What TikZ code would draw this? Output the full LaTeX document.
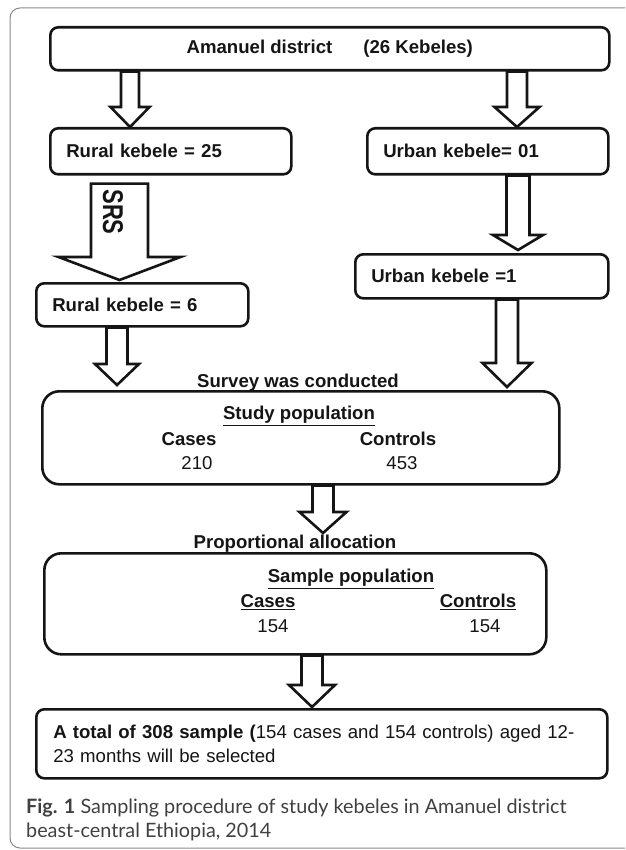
\documentclass[tikz,border=0pt]{standalone}
\usepackage{fontspec}
\setmainfont{Liberation Sans}
\newfontfamily\capfont{Lato}
\usetikzlibrary{calc}
\definecolor{framegray}{HTML}{8A8A8A}
\definecolor{capgray}{HTML}{404040}
\definecolor{ink}{HTML}{151515}
\newcommand{\dfs}{\fontsize{18.6pt}{24pt}\selectfont}
\tikzset{
  box/.style={draw=ink, line width=2.6pt, rounded corners=8pt, fill=white, inner sep=0pt,
    anchor=north west, font=\dfs\bfseries, text=ink},
  bigbox/.style={box, rounded corners=17pt},
  lbl/.style={font=\dfs\bfseries, text=ink, anchor=base, inner sep=0pt},
  num/.style={font=\dfs, text=ink, anchor=base, inner sep=0pt},
  bar/.style={draw=ink, line width=2.6pt, fill=white, line join=miter},
  captext/.style={font=\capfont\fontsize{19.8pt}{25pt}\selectfont, text=capgray, anchor=base west, inner sep=0pt},
}
% #1 src, #2 dst, #3 x, #4 shaft half, #5 head half, #6 head length, #7 start gap, #8 end gap
\newcommand{\blockarrow}[8]{%
  \draw[bar] let \p1=(#1.south), \p2=(#2.north) in
    ({#3pt-#4pt},{\y1-#7pt}) -- ({#3pt-#4pt},{\y2+#8pt+#6pt}) -- ({#3pt-#5pt},{\y2+#8pt+#6pt})
    -- ({#3pt},{\y2+#8pt}) -- ({#3pt+#5pt},{\y2+#8pt+#6pt}) -- ({#3pt+#4pt},{\y2+#8pt+#6pt})
    -- ({#3pt+#4pt},{\y1-#7pt}) -- cycle;}
\begin{document}
\begin{tikzpicture}
\useasboundingbox (0pt,0pt) rectangle (625pt,-850pt);
\clip (0pt,0pt) rectangle (625pt,-850pt);
\draw[framegray, line width=1pt, rounded corners=10pt] (10pt,-8pt) rectangle (660pt,-848pt);

% boxes
\node[box, minimum width=559pt, minimum height=43pt] (top) at (49pt,-26pt)
  {Amanuel district\hspace{31pt}(26 Kebeles)};
\node[box, minimum width=241pt, minimum height=46pt, inner xsep=16pt, text width=209pt, align=left]
  (r25) at (49pt,-127pt) {Rural kebele = 25};
\node[box, minimum width=241pt, minimum height=46pt, inner xsep=16pt, text width=209pt, align=left]
  (u01) at (366pt,-127pt) {Urban kebele= 01};
\node[box, minimum width=212pt, minimum height=43pt, inner xsep=16pt, text width=180pt, align=left]
  (r6) at (35pt,-282pt) {Rural kebele = 6};
\node[box, minimum width=253pt, minimum height=44pt, inner xsep=16pt, text width=221pt, align=left]
  (u1) at (354pt,-253pt) {Urban kebele =1};
\node[bigbox, minimum width=517pt, minimum height=93pt] (study) at (41pt,-390pt) {};
\node[bigbox, minimum width=502pt, minimum height=101pt] (sample) at (43pt,-552pt) {};
\node[box, minimum width=571pt, minimum height=69pt, inner xsep=17pt, text width=537pt, align=left]
  (final) at (35pt,-708pt)
  {\makebox[537pt][s]{A total of 308 sample (\mdseries 154 cases and 154 controls) aged 12-}\\
   \mdseries 23 months will be selected};

% block arrows
\blockarrow{top}{r25}{130}{9}{19.5}{20}{0}{0}
\blockarrow{top}{u01}{517}{10}{22.5}{20}{0}{0}
\blockarrow{r25}{r6}{119.5}{28.5}{61}{23}{8}{2}
\blockarrow{u01}{u1}{518}{11.5}{25}{15}{0}{3}
\blockarrow{r6}{study}{117}{10.5}{22}{21}{0}{5}
\blockarrow{u1}{study}{507}{11}{24.5}{24}{0}{3}
\blockarrow{study}{sample}{323}{10.5}{23.5}{21}{0}{19}
\blockarrow{sample}{final}{312}{10.5}{23}{22}{0}{1}

\node[rotate=-90, font=\fontsize{22pt}{24pt}\selectfont\bfseries, text=ink, inner sep=0pt]
  (srs) at (113pt,-212pt) {\scalebox{1}[1.3]{SRS}};

% labels
\node[lbl] (survey) at (298pt,-387.5pt) {Survey was conducted};
\node[lbl] (prop) at (295pt,-548.5pt) {Proportional allocation};

\node[lbl] (studyt) at (299pt,-419.5pt) {\underline{Study population}};
\node[lbl] (scases) at (189pt,-445.5pt) {Cases};
\node[lbl] (sctrl) at (398pt,-445.5pt) {Controls};
\node[num] (s210) at (197pt,-469.5pt) {210};
\node[num] (s453) at (402pt,-469.5pt) {453};

\node[lbl] (sampt) at (351pt,-582.5pt) {\underline{Sample population}};
\node[lbl] (pcases) at (268pt,-607.5pt) {\underline{Cases}};
\node[lbl] (pctrl) at (478pt,-607.5pt) {\underline{Controls}};
\node[num] (p154a) at (273pt,-632.5pt) {154};
\node[num] (p154b) at (485pt,-632.5pt) {154};

% caption
\node[captext] (cap1) at (26pt,-813pt) {\textbf{Fig. 1} Sampling procedure of study kebeles in Amanuel district};
\node[captext] (cap2) at (26pt,-837pt) {beast-central Ethiopia, 2014};
\end{tikzpicture}
\end{document}
